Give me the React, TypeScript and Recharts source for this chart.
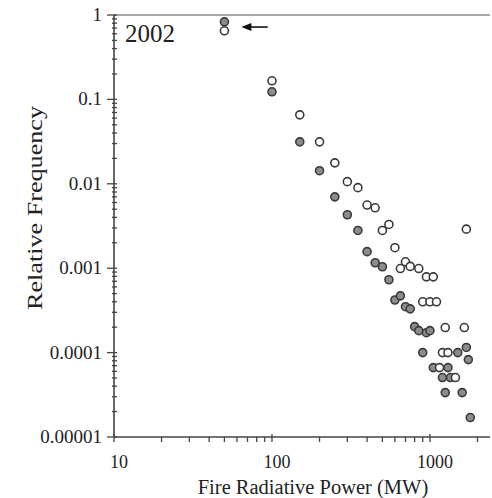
import { ScatterChart, Scatter, XAxis, YAxis, ReferenceLine } from 'recharts'

// open circles
const OPEN_X = [50, 100, 150, 200, 250, 300, 350, 400, 450, 500, 550, 600, 650, 700, 750, 850, 900, 950, 1000, 1050, 1100, 1150, 1200, 1250, 1300, 1450, 1650, 1700]
const OPEN_Y = [0.65, 0.166, 0.0656, 0.0314, 0.0177, 0.0106, 0.009, 0.0056, 0.0052, 0.0028, 0.0033, 0.00175, 0.00099, 0.00119, 0.00105, 0.00099, 0.0004, 0.00079, 0.0004, 0.00079, 0.0004, 0.0000664, 0.0001, 0.000198, 0.0001, 0.0000506, 0.000198, 0.0029]

// grey filled circles
const GREY_X = [50, 100, 150, 200, 250, 300, 350, 400, 450, 500, 550, 600, 650, 700, 750, 800, 850, 900, 950, 1000, 1050, 1200, 1250, 1300, 1350, 1500, 1600, 1700, 1750, 1800]
const GREY_Y = [0.83, 0.123, 0.0314, 0.0143, 0.007, 0.0043, 0.0028, 0.00157, 0.00116, 0.00104, 0.00073, 0.00042, 0.00047, 0.00035, 0.00033, 0.000203, 0.000182, 0.0001, 0.000172, 0.000182, 0.0000664, 0.0000506, 0.0000336, 0.0000664, 0.0000506, 0.0001, 0.0000336, 0.000115, 0.0000826, 0.000017]

const X_MAJOR = [10, 100, 1000]
const X_LABELS = ['10', '100', '1000']
const Y_MAJOR = [0.00001, 0.0001, 0.001, 0.01, 0.1, 1]
const Y_LABELS = ['0.00001', '0.0001', '0.001', '0.01', '0.1', '1']

const YEAR_LABEL = '2002'
const X_TITLE = 'Fire Radiative Power (MW)'
const Y_TITLE = 'Relative Frequency'

const openData = OPEN_X.map((x, i) => ({ x, y: OPEN_Y[i] }))
const greyData = GREY_X.map((x, i) => ({ x, y: GREY_Y[i] }))

function logTicks(from: number, to: number) {
  const out: number[] = []
  for (let e = from; e < to; e++) {
    for (let m = 1; m < 10; m++) out.push(m * Math.pow(10, e))
  }
  out.push(Math.pow(10, to))
  return out
}

const X_TICKS = logTicks(1, 3).concat([2000])
const Y_TICKS = logTicks(-5, 0)

const FONT = '"Liberation Serif", "Times New Roman", serif'
const AXIS = '#444'

function majorIndex(v: number, majors: number[]) {
  return majors.findIndex((m) => Math.abs(v - m) / m < 1e-6)
}

function XTick(props: any) {
  const { x, y, payload } = props
  const idx = majorIndex(payload.value, X_MAJOR)
  return (
    <g>
      <line x1={x} x2={x} y1={idx >= 0 ? y - 3 : y} y2={y + 5} stroke={AXIS} strokeWidth={1.3} />
      {idx >= 0 && (
        <text x={x + 5} y={y + 31} textAnchor="middle" fontSize={18} fill="#222" fontFamily={FONT}>
          {X_LABELS[idx]}
        </text>
      )}
    </g>
  )
}

function YTick(props: any) {
  const { x, y, payload } = props
  const idx = majorIndex(payload.value, Y_MAJOR)
  return (
    <g>
      <line x1={idx >= 0 ? x - 7 : x - 2} x2={x + 3} y1={y} y2={y} stroke={AXIS} strokeWidth={1.3} />
      {idx >= 0 && (
        <text x={x - 12} y={y} dy={6} textAnchor="end" fontSize={19} fill="#222" fontFamily={FONT}>
          {Y_LABELS[idx]}
        </text>
      )}
    </g>
  )
}

function OpenDot(props: any) {
  return <circle cx={props.cx} cy={props.cy} r={4} fill="#fff" stroke="#3a3a3a" strokeWidth={1.6} />
}

function GreyDot(props: any) {
  return <circle cx={props.cx} cy={props.cy} r={4} fill="#8c8c8c" stroke="#3a3a3a" strokeWidth={1.6} />
}

function Arrow(props: any) {
  const { x1, y1, x2, y2 } = props
  return (
    <g>
      <line x1={x1} y1={y1} x2={x2 + 6} y2={y2} stroke="#111" strokeWidth={1.6} />
      <polygon points={`${x2},${y2} ${x2 + 10},${y2 - 4} ${x2 + 10},${y2 + 4}`} fill="#111" />
    </g>
  )
}

export default function App() {
  return (
    <div style={{ position: 'absolute', left: 0, top: 0, width: 492, height: 498, background: '#fff', fontFamily: FONT }}>
      <ScatterChart width={492} height={498} margin={{ top: 15, right: 2, bottom: 0, left: 0 }}>
        <XAxis
          type="number"
          dataKey="x"
          scale="log"
          domain={[10, 2400]}
          allowDataOverflow
          ticks={X_TICKS}
          interval={0}
          tick={(p: any) => <XTick {...p} />}
          tickLine={false}
          tickSize={0}
          tickMargin={0}
          height={61}
          axisLine={{ stroke: AXIS, strokeWidth: 1.6 }}
          label={{
            content: () => (
              <text x={313} y={494} textAnchor="middle" fontSize={20.5} fill="#222" fontFamily={FONT}>
                {X_TITLE}
              </text>
            ),
          }}
        />
        <YAxis
          type="number"
          dataKey="y"
          scale="log"
          domain={[0.00001, 1]}
          allowDataOverflow
          ticks={Y_TICKS}
          interval={0}
          tick={(p: any) => <YTick {...p} />}
          tickLine={false}
          tickSize={0}
          tickMargin={0}
          width={114}
          axisLine={{ stroke: AXIS, strokeWidth: 1.6 }}
          label={{
            content: () => (
              <text
                x={42}
                y={208}
                transform="rotate(-90 42 208)"
                textAnchor="middle"
                fontSize={20}
                fill="#222"
                fontFamily={FONT}
                textLength={204}
                lengthAdjust="spacingAndGlyphs"
              >
                {Y_TITLE}
              </text>
            ),
          }}
        />
        <ReferenceLine y={1} stroke="#a8a8a8" strokeWidth={2} />
        <ReferenceLine
          segment={[{ x: 94, y: 0.72 }, { x: 64, y: 0.72 }]}
          shape={(p: any) => <Arrow {...p} />}
        />
        <Scatter data={greyData} shape={GreyDot} isAnimationActive={false} />
        <Scatter data={openData} shape={OpenDot} isAnimationActive={false} />
      </ScatterChart>
      <div style={{ position: 'absolute', left: 125, top: 21, fontSize: 25, lineHeight: '25px', color: '#222' }}>
        {YEAR_LABEL}
      </div>
    </div>
  )
}
